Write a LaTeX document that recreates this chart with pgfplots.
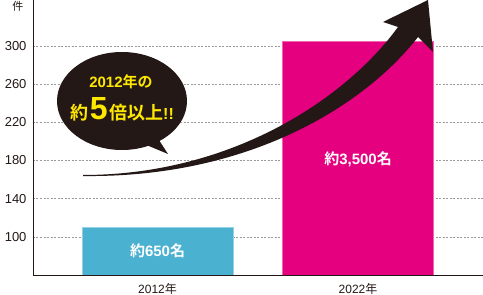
\documentclass[border=0pt]{standalone}
\usepackage{pgfplots}
\pgfplotsset{compat=1.18}
\usepackage{fontspec}
\setmainfont{Liberation Sans}
\newfontfamily\jp{Noto Sans CJK JP}[BoldFont={Noto Sans CJK JP Bold}]
\definecolor{ink}{HTML}{231815}
\definecolor{barblue}{HTML}{4BB1D0}
\definecolor{barpink}{HTML}{E4007F}
\definecolor{hl}{HTML}{FFE800}
\begin{document}
\begin{tikzpicture}
\useasboundingbox (-33pt,-20pt) rectangle (450pt,275pt);
\begin{axis}[at={(0,0)},anchor=south west,scale only axis,width=450pt,height=275pt,
 xmin=-0.621,xmax=1.623,ymin=60,ymax=348,
 axis lines*=left, axis line style={ink,line width=0.9pt},
 xtick={0,1}, xticklabels={2012{\jp 年},2022{\jp 年}},
 ytick={100,140,...,300},
 ymajorgrids, grid style={dash pattern=on 2pt off 1.5pt, color=black!40, line width=0.6pt},
 major tick length=0pt,
 tick label style={font=\fontsize{12}{12}\selectfont, text=ink},
 yticklabel style={font=\fontsize{13}{13}\selectfont, xshift=-3pt},
 /pgf/number format/assume math mode=true,
 xticklabel style={yshift=-5pt},
 ybar, bar width=151pt,
]
\addplot[fill=barblue, draw=barblue!60!white, bar shift=0pt] coordinates {(0,110.5)};
\addplot[fill=barpink, draw=barpink!60!white, bar shift=0pt] coordinates {(1,305)};
\node[text=white, font=\bfseries\fontsize{15}{15}\selectfont] at (axis cs:0,85) {{\jp 約}650{\jp 名}};
\node[text=white, font=\bfseries\fontsize{15}{15}\selectfont] at (axis cs:1,181.5) {{\jp 約}3,500{\jp 名}};
\end{axis}
\begin{scope}[x=1pt,y=1pt,shift={(-33pt,275pt)},yscale=-1]
\fill[ink] (83,175) .. controls (230,175) and (345,100) .. (398,27)
 -- (383,22) -- (428,0) -- (433,52) -- (418,37)
 .. controls (365,105) and (250,178) .. (83,176) -- cycle;
\fill[ink] (144,144) -- (168,154) -- (157,137) -- cycle;
\fill[ink] (122,101) ellipse [x radius=65, y radius=49];
\node[text=hl, font=\bfseries\fontsize{15}{15}\selectfont, anchor=base] at (121,88) {2012{\jp 年の}};
\node[text=hl, font=\bfseries, anchor=base] at (122,120) {{\fontsize{18}{18}\selectfont\jp 約}\,{\fontsize{32}{32}\selectfont 5}\,{\fontsize{18}{18}\selectfont\jp 倍以上}{\fontsize{16}{16}\selectfont !!}};
\node[text=ink, font=\jp\fontsize{11}{11}\selectfont] at (18,6) {件};
\end{scope}
\end{tikzpicture}
\end{document}
